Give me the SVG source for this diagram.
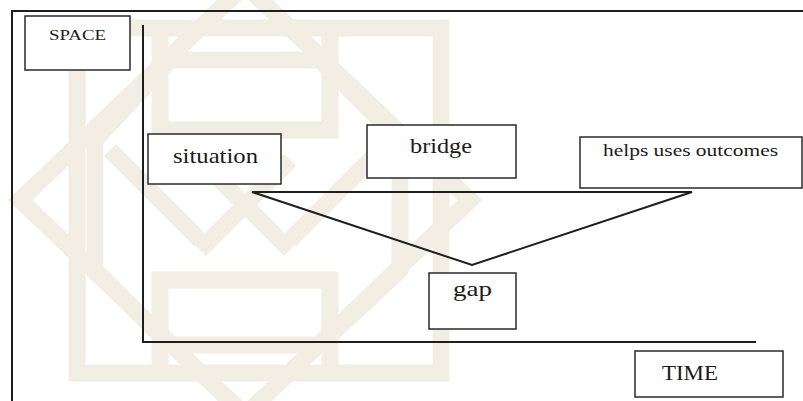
<svg xmlns="http://www.w3.org/2000/svg" width="803" height="401" viewBox="0 0 803 401">
<rect width="803" height="401" fill="#fff"/>
<g id="watermark" fill="none" stroke="#f3eee4" stroke-width="17">
<rect x="77" y="28" width="364" height="345"/>
<polygon points="245,-15 470,200 245,415 20,200"/>
<polygon points="170,60 320,60 400,140 400,270 320,345 170,345 95,270 95,140"/>
<path d="M160,30 V130 H330 V30 M160,370 V280 H330 V370 M110,150 L200,240 M380,150 L290,240 M200,160 L290,250 M290,160 L200,250"/>
</g>
<g id="frame"><rect x="12" y="11" width="800" height="400" fill="none" stroke="#1e1e1e" stroke-width="2"/></g>
<g id="connectors" fill="none" stroke="#1e1e1e" stroke-width="2">
<polyline points="143,25 143,342 756,342"/>
<polygon points="252,192 692,192 472,265"/>
</g>
<g id="nodes" fill="#fff" stroke="#2a2a2a" stroke-width="1.5">
<rect id="space" x="25" y="16" width="105" height="54"/>
<rect id="situation" x="148" y="134" width="133" height="50"/>
<rect id="bridge" x="367" y="125" width="149" height="53"/>
<rect id="helps" x="580" y="137" width="222" height="51"/>
<rect id="gap" x="429" y="273" width="87" height="56"/>
<rect id="time" x="635" y="351" width="148" height="46"/>
</g>
<g id="labels" font-family="Liberation Serif" fill="#1a1a1a">
<text x="49" y="40" font-size="15" textLength="57" lengthAdjust="spacingAndGlyphs">SPACE</text>
<text x="173" y="163" font-size="22" textLength="85" lengthAdjust="spacingAndGlyphs">situation</text>
<text x="410" y="153" font-size="22" textLength="62" lengthAdjust="spacingAndGlyphs">bridge</text>
<text x="603" y="156" font-size="17" textLength="175" lengthAdjust="spacingAndGlyphs">helps uses outcomes</text>
<text x="453" y="296" font-size="22" textLength="39" lengthAdjust="spacingAndGlyphs">gap</text>
<text x="662" y="380" font-size="20" textLength="56" lengthAdjust="spacingAndGlyphs">TIME</text>
</g>
</svg>
